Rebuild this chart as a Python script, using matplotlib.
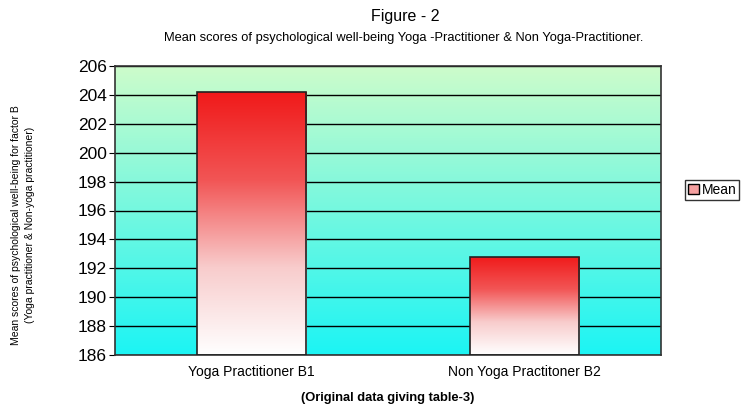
import matplotlib
matplotlib.use("Agg")
import matplotlib.pyplot as plt
import numpy as np
from matplotlib.colors import LinearSegmentedColormap
from matplotlib.patches import Patch

plt.rcParams['font.family'] = ['Liberation Sans', 'DejaVu Sans']

categories = ["Yoga Practitioner B1", "Non Yoga Practitoner B2"]
means = [204.2, 192.8]
y_ticks = [186, 188, 190, 192, 194, 196, 198, 200, 202, 204, 206]

bg_cmap = LinearSegmentedColormap.from_list("bg", ["#1cf4f4", "#cdfccb"])
bar_cmap = LinearSegmentedColormap.from_list("bar", ["#ffffff", "#f8cccc", "#f25555", "#f01a1a"])

fig = plt.figure(figsize=(7.46, 4.12), dpi=100)
ax = fig.add_axes([115 / 746, 1 - 355 / 412, 546 / 746, 289 / 412])

ymin, ymax = y_ticks[0], y_ticks[-1]
x = np.arange(len(categories))

# background gradient
grad = np.linspace(0, 1, 256).reshape(-1, 1)
ax.imshow(grad, cmap=bg_cmap, origin="lower", aspect="auto",
          extent=[-0.5, len(categories) - 0.5, ymin, ymax], zorder=0)

for t in y_ticks:
    ax.axhline(t, color="black", linewidth=1.0, zorder=1)

bars = ax.bar(x, [m - ymin for m in means], bottom=ymin, width=0.4,
              facecolor="none", edgecolor="#222222", linewidth=1.2, zorder=3)
for b in bars:
    x0, y0 = b.get_x(), b.get_y()
    im = ax.imshow(grad, cmap=bar_cmap, origin="lower", aspect="auto",
                   extent=[x0, x0 + b.get_width(), y0, y0 + b.get_height()], zorder=2)
    im.set_clip_path(b)
ax.set_xlim(-0.5, len(categories) - 0.5)
ax.set_ylim(ymin, ymax)

ax.set_yticks(y_ticks)
ax.set_yticklabels([str(t) for t in y_ticks], fontsize=12.5)
ax.set_xticks(x)
ax.set_xticklabels(categories, fontsize=10)
ax.tick_params(axis="x", length=0, pad=7)
ax.tick_params(axis="y", length=4, direction="out", pad=2)
for s in ax.spines.values():
    s.set_color("#333333")
    s.set_linewidth(1.2)

fig.text(23 / 746, 1 - 225 / 412,
         "Mean scores of psychological well-being for factor B\n(Yoga practitioner & Non-yoga practitioner)",
         rotation=90, ha="center", va="center", multialignment="center",
         fontsize=7.5, linespacing=1.45)

fig.text(405 / 746, 1 - 17 / 412, "Figure - 2", ha="center", va="center", fontsize=11.5)
fig.text(404 / 746, 1 - 38 / 412,
         "Mean scores of psychological well-being Yoga -Practitioner & Non Yoga-Practitioner.",
         ha="center", va="center", fontsize=9.3)
fig.text(388 / 746, 1 - 398 / 412, "(Original data giving table-3)",
         ha="center", va="center", fontsize=9.3, fontweight="bold")

handle = Patch(facecolor="#f5a0a0", edgecolor="black", linewidth=1.0)
fig.legend([handle], ["Mean"], loc="center left", bbox_to_anchor=(685 / 746, 1 - 190 / 412),
           frameon=True, fancybox=False, edgecolor="black", fontsize=10,
           handlelength=0.8, handleheight=0.8, handletextpad=0.2, borderpad=0.2,
           borderaxespad=0)

fig.savefig("out.png", dpi=100)
